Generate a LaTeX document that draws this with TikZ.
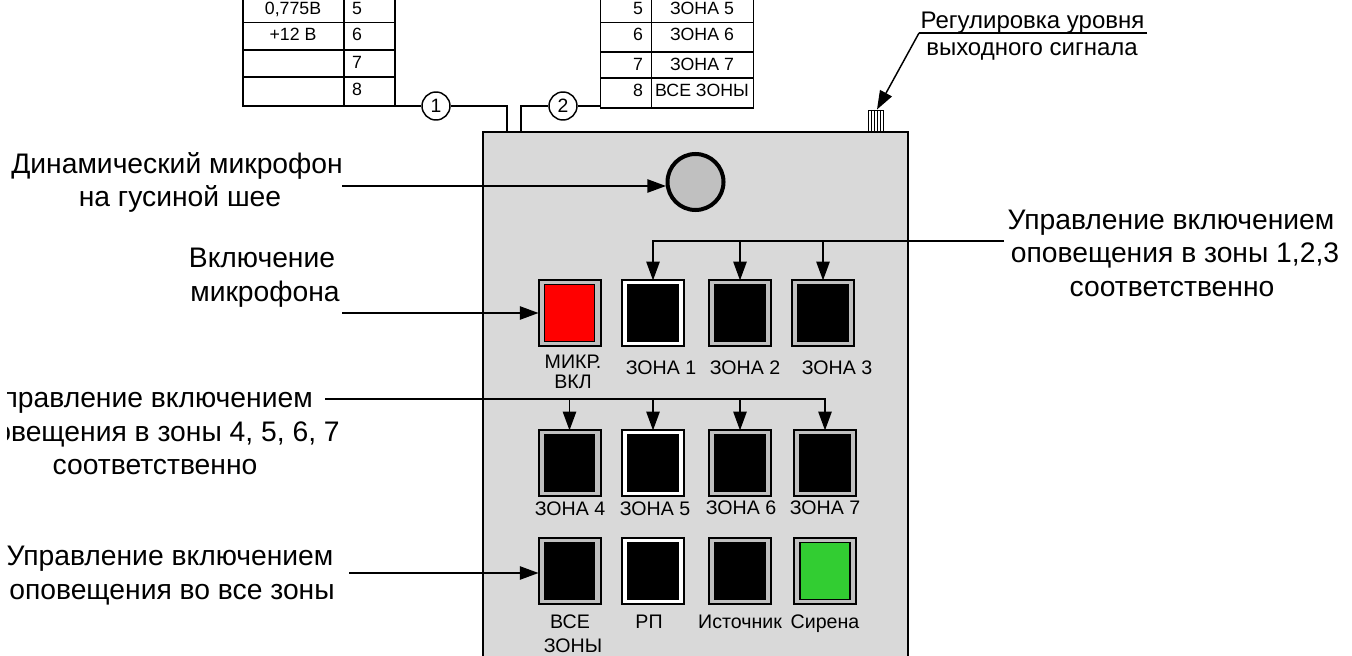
\documentclass[tikz,border=0pt]{standalone}
\usepackage{fontspec}
\setmainfont{Liberation Sans}
\usetikzlibrary{arrows.meta,calc}
\definecolor{panel}{HTML}{D9D9D9}
\definecolor{gap}{HTML}{C0C0C0}
\definecolor{sirena}{HTML}{32CD32}
\newcommand{\fbig}{\fontsize{21.2}{21.2}\selectfont}
\newcommand{\fsmall}{\fontsize{14.7}{14.7}\selectfont}
\newcommand{\ftab}{\fontsize{13.3}{13.3}\selectfont}
\newcommand{\fknob}{\fontsize{18}{18}\selectfont}
\newcommand{\fnum}{\fontsize{14.5}{14.5}\selectfont}
\tikzset{
  x=0.75pt,y=-0.75pt,
  thinline/.style={line width=1.1pt,line join=miter},
  arr/.style={thinline,-{Triangle[length=14pt,width=10pt]}},
  lab/.style={anchor=base,inner sep=0pt,font=\fbig,yshift=-1.1pt},
  small/.style={anchor=base,inner sep=0pt,font=\fsmall,yshift=-0.8pt},
  tab/.style={anchor=base,inner sep=0pt,font=\ftab,yshift=-0.7pt},
  knoblab/.style={anchor=base,inner sep=0pt,font=\fknob,yshift=-1pt},
  num/.style={circle,draw,fill=white,line width=1.1pt,minimum size=21pt,inner sep=0pt,font=\fnum},
  btn/.style={draw,line width=1.5pt,rectangle,minimum width=46.5pt,minimum height=49pt,inner sep=0pt,outer sep=0pt},
  grayf/.style={btn,fill=gap},
  whitef/.style={btn,fill=white},
  face/.style={draw=black,line width=0.8pt,rectangle,minimum width=37.5pt,minimum height=42.5pt,inner sep=0pt},
}
\begin{document}
\begin{tikzpicture}
\useasboundingbox (0,0) rectangle (1352,656);
\clip (0,0) rectangle (1352,656);
% panel
\node[draw,line width=2pt,fill=panel,anchor=north west,minimum width=318.75pt,minimum height=450pt,inner sep=0pt,outer sep=0pt] (panel) at (483,132) {};
% tables
\draw[thinline] (243,-5) -- (243,106) -- (395,106) -- (395,-5)
  (344,-5) -- (344,106) (243,22.5) -- (395,22.5) (243,50) -- (395,50) (243,77) -- (395,77);
\draw[thinline] (600.5,-5) -- (600.5,108) -- (753.5,108) -- (753.5,-5)
  (651.5,-5) -- (651.5,108) (600.5,22.5) -- (753.5,22.5) (600.5,52) -- (753.5,52) (600.5,78) -- (753.5,78);
\node[tab] (l5v) at (293,14) {0,775В};
\node[tab] (l6v) at (293,40) {+12 В};
\node[tab] (l5) at (357,14) {5};
\node[tab] (l6) at (357,40) {6};
\node[tab] (l7) at (357,68) {7};
\node[tab] (l8) at (357,95) {8};
\node[tab] (r5) at (638,14) {5};
\node[tab] (r6) at (638,40) {6};
\node[tab] (r7) at (638,70) {7};
\node[tab] (r8) at (638,96) {8};
\node[tab] (r5v) at (702,14) {ЗОНА 5};
\node[tab] (r6v) at (702,40) {ЗОНА 6};
\node[tab] (r7v) at (702,70) {ЗОНА 7};
\node[tab] (r8v) at (702,96) {ВСЕ ЗОНЫ};
% cables
\coordinate (tlr) at (395,106);
\coordinate (trl) at (600.5,106);
\coordinate (p1) at (507,132);
\coordinate (p2) at (521,132);
\node[num] (c1) at (436,106) {1};
\node[num] (c2) at (563,106) {2};
\draw[thinline] (tlr) -- (c1) -| (p1);
\draw[thinline] (trl) -- (c2) -| (p2);
% knob
\draw[line width=0.7pt] (868,110) rectangle (883,132);
\foreach \k in {871,874,877,880} \draw[line width=0.7pt] (\k,110) -- (\k,132);
\coordinate (knobtop) at (877,109.5);
\coordinate (kl) at (1147,33);
\coordinate (kb) at (919,33);
\draw[thinline] (kl) -- (kb);
\draw[arr] (kb) -- (knobtop);
\node[knoblab] (k1) at (1032.5,27) {Регулировка уровня};
\node[knoblab] (k2) at (1032,54) {выходного сигнала};
% mic
\node[circle,draw,line width=3pt,fill=gap,minimum size=42pt,inner sep=0pt,outer sep=0pt] (mic) at (695.5,182) {};
\node[lab] (m1) at (177,172) {Динамический микрофон};
\node[lab] (m2) at (180,205) {на гусиной шее};
\coordinate (micS) at (342,186);
\coordinate (micT) at (666,186);
\draw[arr] (micS) -- (micT);
% buttons row 1
\node[grayf] (bmic) at (569.5,313) {};
\node[face,fill=red] (fmic) at (bmic) {};
\node[whitef] (z1) at (653,313) {};
\node[face,fill=black] (fz1) at (z1) {};
\node[grayf] (z2) at (740,313) {};
\node[face,fill=black] (fz2) at (z2) {};
\node[grayf] (z3) at (823,313) {};
\node[face,fill=black] (fz3) at (z3) {};
% row 2
\node[grayf] (z4) at (569.5,463) {};
\node[face,fill=black] (fz4) at (z4) {};
\node[whitef] (z5) at (653,463) {};
\node[face,fill=black] (fz5) at (z5) {};
\node[grayf] (z6) at (740,463) {};
\node[face,fill=black] (fz6) at (z6) {};
\node[grayf] (z7) at (825,463) {};
\node[face,fill=black] (fz7) at (z7) {};
% row 3
\node[grayf] (all) at (569.5,571) {};
\node[face,fill=black] (fall) at (all) {};
\node[whitef] (rp) at (653,571) {};
\node[face,fill=black] (frp) at (rp) {};
\node[grayf] (src) at (740,571) {};
\node[face,fill=black] (fsrc) at (src) {};
\node[grayf] (sir) at (825,571) {};
\node[face,fill=sirena] (fsir) at (sir) {};
% button labels
\node[small] (t1) at (573,367) {МИКР.};
\node[small] (t2) at (573,387) {ВКЛ};
\node[small] (t3) at (661,373) {ЗОНА 1};
\node[small] (t4) at (745,373) {ЗОНА 2};
\node[small] (t5) at (837,373) {ЗОНА 3};
\node[small] (t6) at (570,514) {ЗОНА 4};
\node[small] (t7) at (655,514) {ЗОНА 5};
\node[small] (t8) at (741,513) {ЗОНА 6};
\node[small] (t9) at (825,513) {ЗОНА 7};
\node[small] (t10) at (570,627) {ВСЕ};
\node[small] (t11) at (573,651) {ЗОНЫ};
\node[small] (t12) at (649,627) {РП};
\node[small] (t13) at (740,627) {Источник};
\node[small] (t14) at (825,627) {Сирена};
% mic button label
\node[lab] (v1) at (262,266) {Включение};
\node[lab] (v2) at (265,300) {микрофона};
\coordinate (vS) at (342,313);
\draw[arr] (vS) -- (bmic.west);
% zones 1-3
\node[lab] (a1) at (1171,228) {Управление включением};
\node[lab] (a2) at (1175,261) {оповещения в зоны 1,2,3};
\node[lab] (a3) at (1172,295) {соответственно};
\coordinate (aS) at (1004,241);
\draw[arr] (aS) -- (aS -| z1) -- (z1.north);
\draw[arr] (z2 |- aS) -- (z2.north);
\draw[arr] (z3 |- aS) -- (z3.north);
% zones 4-7
\node[lab,anchor=base east] (b1) at (313,406) {Управление включением};
\node[lab,anchor=base east] (b2) at (340,440) {оповещения в зоны 4, 5, 6, 7};
\node[lab] (b3) at (155,473) {соответственно};
\fill[white] (-2,380) rectangle (7,450);
\coordinate (bS) at (325,399);
\draw[arr] (bS) -- (bS -| z7) -- (z7.north);
\draw[arr] (z4 |- bS) -- (z4.north);
\draw[arr] (z5 |- bS) -- (z5.north);
\draw[arr] (z6 |- bS) -- (z6.north);
% all zones
\node[lab] (c1l) at (170,564) {Управление включением};
\node[lab] (c2l) at (172,598) {оповещения во все зоны};
\coordinate (cS) at (349,573);
\draw[arr] (cS) -- (cS -| all.west);
\end{tikzpicture}
\end{document}
